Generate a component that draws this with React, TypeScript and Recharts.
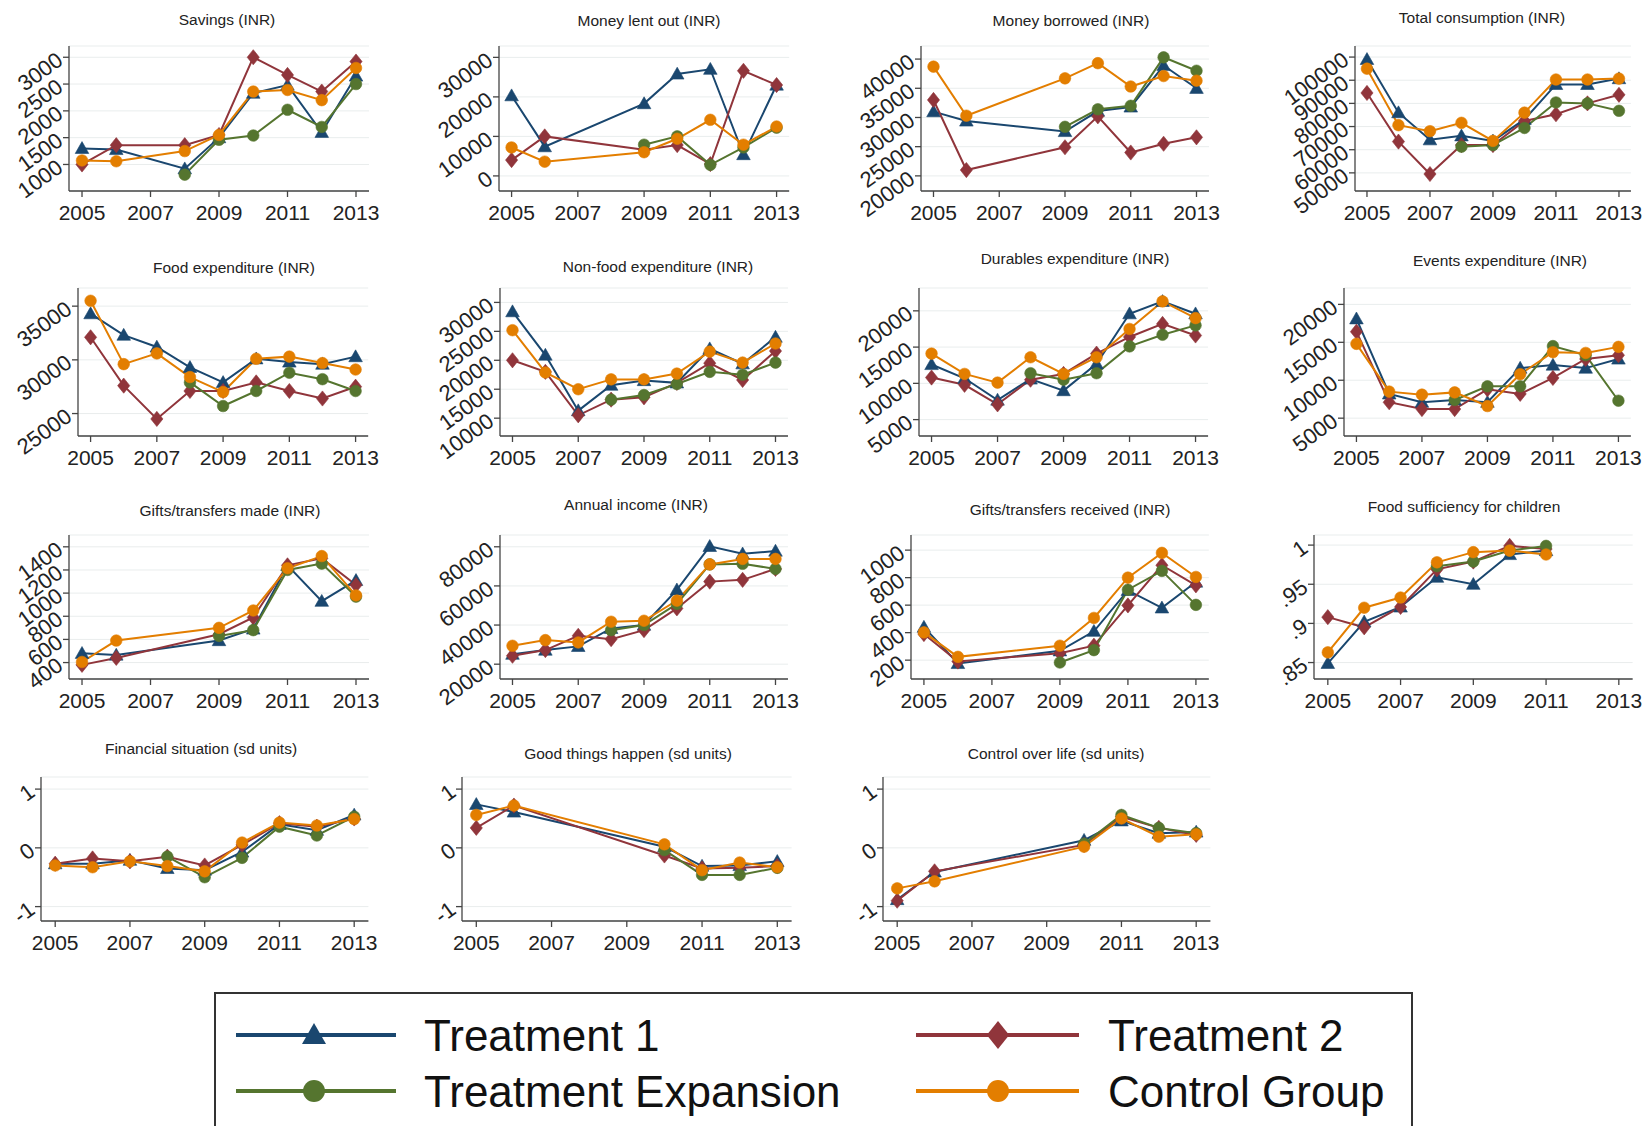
import React from "react";
import { LineChart, Line, XAxis, YAxis, CartesianGrid } from "recharts";

// series colours (Stata s2color)
const C_T1 = "#1a476f";
const C_T2 = "#90353b";
const C_TE = "#55752f";
const C_CTRL = "#e37e00";

const FONT = "'Liberation Sans', Arial, Helvetica, sans-serif";

const YEAR_TICKS = [2005, 2007, 2009, 2011, 2013];
const ALL_YEARS = [2005, 2006, 2007, 2008, 2009, 2010, 2011, 2012, 2013];

// ---- Savings
const SAV_YEARS = [2005, 2006, 2008, 2009, 2010, 2011, 2012, 2013];
const SAV_T1 = [1300, 1280, 920, 1500, 2330, 2480, 1600, 2650];
const SAV_T2 = [1000, 1360, 1360, 1550, 3000, 2670, 2360, 2920];
const SAV_TE = [null, null, 810, 1460, 1540, 2020, 1700, 2500];
const SAV_C = [1075, 1060, 1250, 1550, 2360, 2390, 2200, 2800];
const SAV_TICKS = [1000, 1500, 2000, 2500, 3000];

// ---- Money lent out
const LENT_YEARS = [2005, 2006, 2009, 2010, 2011, 2012, 2013];
const LENT_T1 = [20300, 7400, 18300, 25800, 27000, 5400, 23000];
const LENT_T2 = [4000, 10000, 6600, 7800, 3000, 26600, 23000];
const LENT_TE = [null, null, 7900, 10000, 2800, 7200, 12200];
const LENT_C = [7200, 3600, 6000, 9400, 14200, 7900, 12500];
const LENT_TICKS = [0, 10000, 20000, 30000];

// ---- Money borrowed
const BORR_YEARS = [2005, 2006, 2009, 2010, 2011, 2012, 2013];
const BORR_T1 = [31000, 29400, 27600, 31100, 31800, 38900, 35000];
const BORR_T2 = [33000, 21000, 24900, 30200, 24000, 25500, 26600];
const BORR_TE = [null, null, 28400, 31400, 32000, 40300, 38000];
const BORR_C = [38700, 30300, 36700, 39300, 35300, 37100, 36300];
const BORR_TICKS = [20000, 25000, 30000, 35000, 40000];

// ---- Total consumption
const CONS_T1 = [99000, 76000, 64300, 66000, 63800, 73100, 88200, 88200, 90700];
const CONS_T2 = [84500, 63500, 49500, 62000, 62000, 72400, 75300, 80000, 83700];
const CONS_TE = [null, null, null, 61300, 62000, 69400, 80400, 80000, 76800];
const CONS_C = [95000, 70600, 68000, 71600, 63800, 76000, 90300, 90300, 90700];
const CONS_TICKS = [50000, 60000, 70000, 80000, 90000, 100000];

// ---- Food expenditure
const FOOD_T1 = [34300, 32300, 31200, 29300, 27900, 30100, 29800, 29600, 30300];
const FOOD_T2 = [32100, 27600, 24500, 27100, 27100, 27900, 27100, 26400, 27500];
const FOOD_TE = [null, null, null, 27900, 25700, 27100, 28800, 28200, 27100];
const FOOD_C = [35500, 29600, 30600, 28400, 27000, 30100, 30300, 29700, 29100];
const FOOD_TICKS = [25000, 30000, 35000];

// ---- Non-food expenditure
const NONF_T1 = [28400, 20900, 11300, 15700, 16500, 16100, 22000, 19400, 24000];
const NONF_T2 = [20000, 18000, 10500, 13200, 13600, 16100, 19500, 16600, 21600];
const NONF_TE = [null, null, null, 13200, 14000, 15900, 18000, 17500, 19600];
const NONF_C = [25200, 17900, 15000, 16700, 16700, 17700, 21500, 19600, 22900];
const NONF_TICKS = [10000, 15000, 20000, 25000, 30000];

// ---- Durables expenditure
const DUR_T1 = [12600, 10700, 7700, 10600, 9000, 12700, 19600, 21300, 19600];
const DUR_T2 = [10800, 9800, 7100, 10500, 11300, 14100, 16400, 18200, 16600];
const DUR_TE = [null, null, null, 11400, 10500, 11400, 15100, 16700, 18000];
const DUR_C = [14100, 11300, 10100, 13600, 11300, 13600, 17500, 21300, 19000];
const DUR_TICKS = [5000, 10000, 15000, 20000];

// ---- Events expenditure
const EVT_T1 = [18100, 8200, 7100, 7400, 7100, 11600, 12000, 11600, 12800];
const EVT_T2 = [16400, 7100, 6200, 6200, 8800, 8200, 10300, 12800, 13300];
const EVT_TE = [null, null, null, 7400, 9200, 9200, 14500, 13300, 7300];
const EVT_C = [14800, 8500, 8100, 8400, 6600, 10800, 13700, 13600, 14400];
const EVT_TICKS = [5000, 10000, 15000, 20000];

// ---- Gifts/transfers made
const GM_YEARS = [2005, 2006, 2009, 2010, 2011, 2012, 2013];
const GM_T1 = [480, 465, 590, 690, 1240, 930, 1110];
const GM_T2 = [380, 440, 645, 790, 1240, 1300, 1070];
const GM_TE = [null, null, 630, 680, 1200, 1255, 970];
const GM_C = [405, 590, 700, 850, 1215, 1320, 980];
const GM_TICKS = [400, 600, 800, 1000, 1200, 1400];

// ---- Annual income
const INC_T1 = [25100, 27200, 29100, 38300, 40000, 58000, 80200, 76400, 77800];
const INC_T2 = [24300, 27200, 34500, 32800, 37400, 48500, 62200, 63100, 68700];
const INC_TE = [null, null, null, 37400, 40000, 50800, 71000, 71300, 68700];
const INC_C = [29400, 32300, 31100, 41700, 42200, 52500, 71000, 73800, 73800];
const INC_TICKS = [20000, 40000, 60000, 80000];

// ---- Gifts/transfers received
const GR_YEARS = [2005, 2006, 2009, 2010, 2011, 2012, 2013];
const GR_T1 = [440, 176, 268, 410, 707, 580, 768];
const GR_T2 = [390, 190, 251, 305, 598, 890, 744];
const GR_TE = [null, null, 183, 273, 712, 849, 602];
const GR_C = [402, 224, 305, 507, 800, 980, 805];
const GR_TICKS = [200, 400, 600, 800, 1000];

// ---- Food sufficiency for children
const FS_YEARS = [2005, 2006, 2007, 2008, 2009, 2010, 2011];
const FS_T1 = [0.849, 0.902, 0.921, 0.959, 0.95, 0.988, 0.993];
const FS_T2 = [0.908, 0.895, 0.921, 0.969, 0.979, 0.999, 0.995];
const FS_TE = [null, null, null, 0.973, 0.979, 0.993, 0.999];
const FS_C = [0.863, 0.92, 0.933, 0.978, 0.991, 0.993, 0.988];
const FS_TICKS = [0.85, 0.9, 0.95, 1];

// ---- Financial situation
const FIN_T1 = [-0.27, -0.27, -0.21, -0.35, -0.38, -0.07, 0.4, 0.3, 0.56];
const FIN_T2 = [-0.27, -0.18, -0.23, -0.15, -0.3, 0.05, 0.42, 0.36, 0.5];
const FIN_TE = [null, null, null, -0.15, -0.5, -0.17, 0.36, 0.21, 0.53];
const FIN_C = [-0.3, -0.33, -0.23, -0.31, -0.4, 0.09, 0.43, 0.38, 0.49];

// ---- Good things happen
const GOOD_YEARS = [2005, 2006, 2010, 2011, 2012, 2013];
const GOOD_T1 = [0.74, 0.61, 0.02, -0.31, -0.3, -0.23];
const GOOD_T2 = [0.34, 0.72, -0.13, -0.35, -0.34, -0.31];
const GOOD_TE = [null, null, -0.04, -0.46, -0.46, -0.34];
const GOOD_C = [0.56, 0.72, 0.06, -0.38, -0.25, -0.33];

// ---- Control over life
const CTRL_YEARS = [2005, 2006, 2010, 2011, 2012, 2013];
const CTRL_T1 = [-0.88, -0.41, 0.13, 0.46, 0.25, 0.27];
const CTRL_T2 = [-0.9, -0.4, 0.05, 0.53, 0.34, 0.22];
const CTRL_TE = [null, null, 0.07, 0.56, 0.34, 0.25];
const CTRL_C = [-0.69, -0.57, 0.02, 0.5, 0.19, 0.23];

const SD_TICKS = [-1, 0, 1];

const LEGEND_ITEMS = [
    { label: "Treatment 1", color: C_T1, shape: "tri" },
    { label: "Treatment 2", color: C_T2, shape: "dia" },
    { label: "Treatment Expansion", color: C_TE, shape: "circ" },
    { label: "Control Group", color: C_CTRL, shape: "circ" },
];

// layout
const ROWS = [
    { top: 46, bottom: 191 },
    { top: 288, bottom: 436 },
    { top: 535, bottom: 679 },
    { top: 777, bottom: 921 },
];
const X_PAD = 0.38;

const fmtDec = (v: number) => (v === 1 ? "1" : String(v).replace(/^0/, ""));

const PANELS = [
    { title: "Savings (INR)", years: SAV_YEARS, t1: SAV_T1, t2: SAV_T2, te: SAV_TE, c: SAV_C, ticks: SAV_TICKS, domain: [505, 3210], row: 0, x0: 82, x1: 356, tx: 227, ty: 20 },
    { title: "Money lent out (INR)", years: LENT_YEARS, t1: LENT_T1, t2: LENT_T2, te: LENT_TE, c: LENT_C, ticks: LENT_TICKS, domain: [-3820, 32880], row: 0, x0: 512, x1: 777, tx: 649, ty: 21 },
    { title: "Money borrowed (INR)", years: BORR_YEARS, t1: BORR_T1, t2: BORR_T2, te: BORR_TE, c: BORR_C, ticks: BORR_TICKS, domain: [17410, 42240], row: 0, x0: 933, x1: 1196, tx: 1071, ty: 21 },
    { title: "Total consumption (INR)", years: ALL_YEARS, t1: CONS_T1, t2: CONS_T2, te: CONS_TE, c: CONS_C, ticks: CONS_TICKS, domain: [42170, 104780], row: 0, x0: 1367, x1: 1619, tx: 1482, ty: 18 },
    { title: "Food expenditure (INR)", years: ALL_YEARS, t1: FOOD_T1, t2: FOOD_T2, te: FOOD_TE, c: FOOD_C, ticks: FOOD_TICKS, domain: [22910, 36690], row: 1, x0: 91, x1: 356, tx: 234, ty: 268 },
    { title: "Non-food expenditure (INR)", years: ALL_YEARS, t1: NONF_T1, t2: NONF_T2, te: NONF_TE, c: NONF_C, ticks: NONF_TICKS, domain: [6920, 32490], row: 1, x0: 512, x1: 775, tx: 658, ty: 267 },
    { title: "Durables expenditure (INR)", years: ALL_YEARS, t1: DUR_T1, t2: DUR_T2, te: DUR_TE, c: DUR_C, ticks: DUR_TICKS, domain: [2740, 23150], row: 1, x0: 932, x1: 1196, tx: 1075, ty: 259 },
    { title: "Events expenditure (INR)", years: ALL_YEARS, t1: EVT_T1, t2: EVT_T2, te: EVT_TE, c: EVT_C, ticks: EVT_TICKS, domain: [2650, 22160], row: 1, x0: 1356, x1: 1618, tx: 1500, ty: 261 },
    { title: "Gifts/transfers made (INR)", years: GM_YEARS, t1: GM_T1, t2: GM_T2, te: GM_TE, c: GM_C, ticks: GM_TICKS, domain: [258, 1502], row: 2, x0: 82, x1: 356, tx: 230, ty: 511 },
    { title: "Annual income (INR)", years: ALL_YEARS, t1: INC_T1, t2: INC_T2, te: INC_TE, c: INC_C, ticks: INC_TICKS, domain: [12430, 86020], row: 2, x0: 512, x1: 775, tx: 636, ty: 505 },
    { title: "Gifts/transfers received (INR)", years: GR_YEARS, t1: GR_T1, t2: GR_T2, te: GR_TE, c: GR_C, ticks: GR_TICKS, domain: [63, 1110], row: 2, x0: 924, x1: 1196, tx: 1070, ty: 510 },
    { title: "Food sufficiency for children", years: FS_YEARS, t1: FS_T1, t2: FS_T2, te: FS_TE, c: FS_C, ticks: FS_TICKS, domain: [0.829, 1.0129], row: 2, x0: 1328, x1: 1619, tx: 1464, ty: 507, fmt: fmtDec },
    { title: "Financial situation (sd units)", years: ALL_YEARS, t1: FIN_T1, t2: FIN_T2, te: FIN_TE, c: FIN_C, ticks: SD_TICKS, domain: [-1.245, 1.206], row: 3, x0: 55, x1: 354, tx: 201, ty: 749 },
    { title: "Good things happen (sd units)", years: GOOD_YEARS, t1: GOOD_T1, t2: GOOD_T2, te: GOOD_TE, c: GOOD_C, ticks: SD_TICKS, domain: [-1.245, 1.206], row: 3, x0: 476, x1: 777, tx: 628, ty: 754 },
    { title: "Control over life (sd units)", years: CTRL_YEARS, t1: CTRL_T1, t2: CTRL_T2, te: CTRL_TE, c: CTRL_C, ticks: SD_TICKS, domain: [-1.245, 1.206], row: 3, x0: 897, x1: 1196, tx: 1056, ty: 754 },
];

function triPath(cx: number, cy: number, s: number) {
    return `M${cx},${cy - s} L${cx + s},${cy + s * 0.75} L${cx - s},${cy + s * 0.75} Z`;
}
function diaPath(cx: number, cy: number, s: number) {
    return `M${cx},${cy - s} L${cx + s * 0.8},${cy} L${cx},${cy + s} L${cx - s * 0.8},${cy} Z`;
}

const makeDot = (shape: string, color: string) => (p: any) => {
    const { cx, cy, index } = p;
    const key = `d-${shape}-${index}`;
    if (cx == null || cy == null || p.value == null) return <g key={key} />;
    if (shape === "tri")
        return <path key={key} d={triPath(cx, cy, 6.8)} fill={color} stroke={color} strokeWidth={0.6} />;
    if (shape === "dia")
        return <path key={key} d={diaPath(cx, cy, 7.6)} fill={color} stroke={color} strokeWidth={0.6} />;
    return <circle key={key} cx={cx} cy={cy} r={5.8} fill={color} stroke={color} strokeWidth={0.6} />;
};

const YTick = (props: any) => {
    const { x, y, payload, fmt } = props;
    const label = fmt ? fmt(payload.value) : String(payload.value);
    return (
        <text
            x={x}
            y={y}
            transform={`rotate(-36 ${x} ${y})`}
            textAnchor="end"
            dominantBaseline="central"
            fontSize={22}
            fontFamily={FONT}
            fill="#222"
        >
            {label}
        </text>
    );
};

const YAXIS_W = 80;
const M_TOP = 12;
const M_RIGHT = 12;
const XAXIS_H = 40;

function Panel({ p }: { p: any }) {
    const row = ROWS[p.row];
    const ppy = (p.x1 - p.x0) / 8;
    const plotL = p.x0 - X_PAD * ppy;
    const plotR = p.x1 + X_PAD * ppy;
    const w = plotR - plotL + YAXIS_W + M_RIGHT;
    const h = row.bottom - row.top + M_TOP + XAXIS_H;
    const data = p.years.map((year: number, i: number) => ({
        year,
        t1: p.t1[i],
        t2: p.t2[i],
        te: p.te[i],
        c: p.c[i],
    }));
    return (
        <>
            <div
                style={{
                    position: "absolute",
                    left: p.tx,
                    top: p.ty,
                    transform: "translate(-50%, -50%)",
                    fontFamily: FONT,
                    fontSize: 15.5,
                    color: "#222",
                    whiteSpace: "nowrap",
                }}
            >
                {p.title}
            </div>
            <div style={{ position: "absolute", left: plotL - YAXIS_W, top: row.top - M_TOP }}>
                <LineChart
                    width={w}
                    height={h}
                    data={data}
                    margin={{ top: M_TOP, right: M_RIGHT, bottom: 0, left: 0 }}
                >
                    <CartesianGrid vertical={false} stroke="#e9eded" strokeWidth={1} />
                    <XAxis
                        type="number"
                        dataKey="year"
                        domain={[2005 - X_PAD, 2013 + X_PAD]}
                        ticks={YEAR_TICKS}
                        allowDataOverflow
                        height={XAXIS_H}
                        tickSize={6}
                        tickMargin={8}
                        axisLine={{ stroke: "#444", strokeWidth: 1.3 }}
                        tickLine={{ stroke: "#444", strokeWidth: 1.3 }}
                        tick={{ fontSize: 21, fontFamily: FONT, fill: "#222" }}
                        interval={0}
                    />
                    <YAxis
                        type="number"
                        domain={p.domain}
                        ticks={p.ticks}
                        allowDataOverflow
                        width={YAXIS_W}
                        tickSize={6}
                        tickMargin={3}
                        axisLine={{ stroke: "#444", strokeWidth: 1.3 }}
                        tickLine={{ stroke: "#444", strokeWidth: 1.3 }}
                        tick={<YTick fmt={p.fmt} />}
                        interval={0}
                    />
                    <Line type="linear" dataKey="t1" stroke={C_T1} strokeWidth={2} dot={makeDot("tri", C_T1)} activeDot={false} isAnimationActive={false} />
                    <Line type="linear" dataKey="t2" stroke={C_T2} strokeWidth={2} dot={makeDot("dia", C_T2)} activeDot={false} isAnimationActive={false} />
                    <Line type="linear" dataKey="te" stroke={C_TE} strokeWidth={2} dot={makeDot("circ", C_TE)} activeDot={false} isAnimationActive={false} />
                    <Line type="linear" dataKey="c" stroke={C_CTRL} strokeWidth={2} dot={makeDot("circ", C_CTRL)} activeDot={false} isAnimationActive={false} />
                </LineChart>
            </div>
        </>
    );
}

function LegendMarker({ shape, color, cx, cy }: any) {
    if (shape === "tri") return <path d={triPath(cx, cy, 12)} fill={color} />;
    if (shape === "dia") return <path d={diaPath(cx, cy, 14)} fill={color} />;
    return <circle cx={cx} cy={cy} r={11} fill={color} />;
}

function LegendBox() {
    const cols = [
        { lineL: 236, lineR: 396, mark: 314, text: 424 },
        { lineL: 916, lineR: 1079, mark: 998, text: 1108 },
    ];
    const rowsY = [1035, 1091];
    return (
        <svg
            width={1642}
            height={1126}
            style={{ position: "absolute", left: 0, top: 0, pointerEvents: "none" }}
        >
            <rect x={215} y={993} width={1197} height={160} fill="none" stroke="#333" strokeWidth={2} />
            {LEGEND_ITEMS.map((it, i) => {
                const col = cols[i % 2];
                const y = rowsY[Math.floor(i / 2)];
                return (
                    <g key={it.label}>
                        <line x1={col.lineL} x2={col.lineR} y1={y} y2={y} stroke={it.color} strokeWidth={4} />
                        <LegendMarker shape={it.shape} color={it.color} cx={col.mark} cy={y} />
                        <text
                            x={col.text}
                            y={y}
                            dominantBaseline="central"
                            fontSize={44}
                            fontFamily={FONT}
                            fill="#111"
                        >
                            {it.label}
                        </text>
                    </g>
                );
            })}
        </svg>
    );
}

export default function App() {
    return (
        <div
            style={{
                position: "absolute",
                left: 0,
                top: 0,
                width: 1642,
                height: 1126,
                background: "#fff",
                overflow: "hidden",
            }}
        >
            {PANELS.map((p) => (
                <Panel key={p.title} p={p} />
            ))}
            <LegendBox />
        </div>
    );
}
